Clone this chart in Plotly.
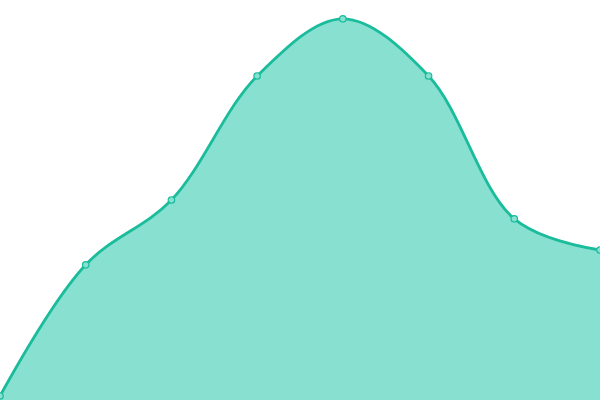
import plotly.graph_objects as go

# --- data (y axis 0..100 spans the full height) ---
x_vals = [0, 1, 2, 3, 4, 5, 6, 7]
y_vals = [1, 33.8, 50, 81, 95.3, 81, 45.3, 37.5]

LINE_COLOR = "#1abc9c"
FILL_COLOR = "#88e0d0"

fig = go.Figure()

fig.add_trace(
    go.Scatter(
        x=x_vals, y=y_vals,
        mode="lines+markers",
        line=dict(color=LINE_COLOR, width=2.8, shape="spline", smoothing=1),
        fill="tozeroy",
        fillcolor=FILL_COLOR,
        marker=dict(size=6.5, color=FILL_COLOR, line=dict(color=LINE_COLOR, width=1.2)),
        cliponaxis=False,
        hoverinfo="skip",
    )
)

fig.update_layout(
    width=600, height=400,
    margin=dict(l=0, r=0, t=0, b=0),
    plot_bgcolor="white",
    paper_bgcolor="white",
    showlegend=False,
)
fig.update_xaxes(visible=False, range=[0, 7])
fig.update_yaxes(visible=False, range=[0, 100])

# page body has a default margin which shifts the plot; drop it
fig.write_html(
    "out.html",
    config={"displayModeBar": False},
    post_script="document.body.style.margin='0';document.body.style.overflow='hidden';",
)
